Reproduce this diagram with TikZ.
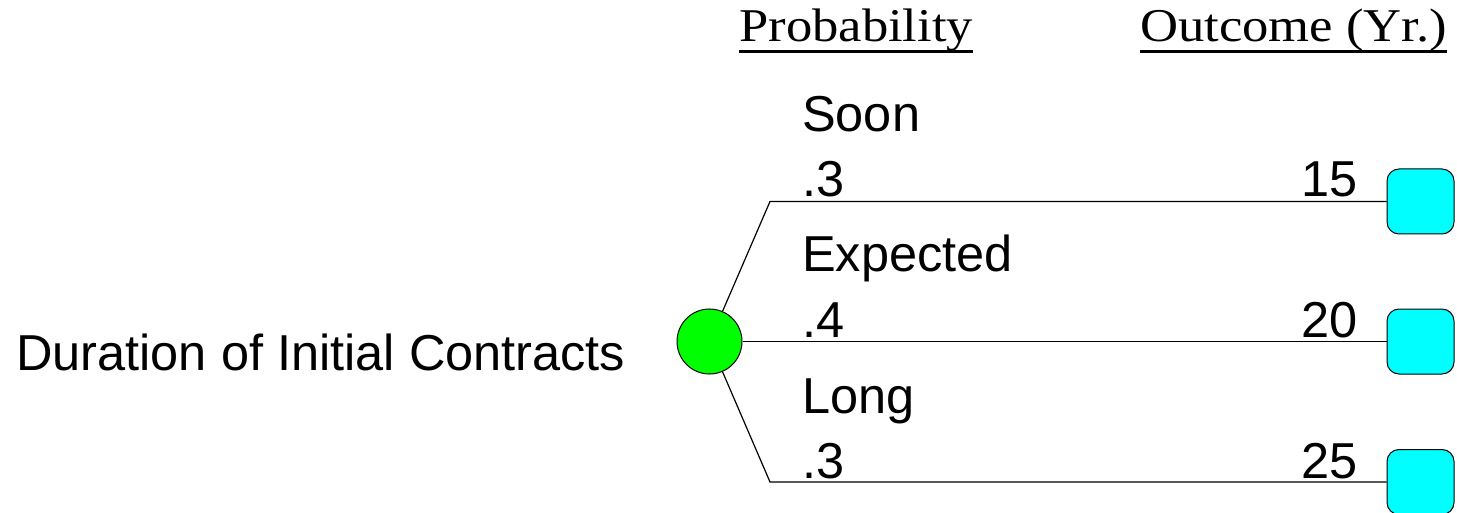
\documentclass[tikz,border=0pt]{standalone}
\usepackage{fontspec}
\setmainfont{Liberation Sans}
\newfontfamily\tnr{Liberation Serif}
\begin{document}
\begin{tikzpicture}[x=1pt,y=-1pt,
  lbl/.style={inner sep=0pt, anchor=base west, font=\fontsize{50.5}{60}\selectfont},
  lblr/.style={inner sep=0pt, anchor=base east, font=\fontsize{50.5}{60}\selectfont},
  head/.style={inner sep=0pt, anchor=base west},
  branch/.style={draw=black, line width=1.2pt},
  chance/.style={circle, draw=black, line width=1pt, fill={rgb,255:red,0;green,255;blue,0}, minimum size=65pt, inner sep=0pt},
  endnode/.style={rectangle, rounded corners=12pt, draw=black, line width=1pt, fill={rgb,255:red,0;green,255;blue,255}, minimum width=67pt, minimum height=65pt, inner sep=0pt}
]
\useasboundingbox (0,0) rectangle (1457,513);
\clip (0,0) rectangle (1457,513);

% headings
\node[head] (hp) at (739,42) {\tnr\fontsize{47}{56}\selectfont\scalebox{1.12}[1]{Probability}};
\node[head] (ho) at (1140,42) {\tnr\fontsize{47}{56}\selectfont\scalebox{1.12}[1]{Outcome (Yr.)}};
\draw[line width=3pt] (hp.west |- 0,52) -- (hp.east |- 0,52);
\draw[line width=3pt] (ho.west |- 0,52) -- (ho.east |- 0,52);

% decision label
\node[lbl] (title) at (16,370) {Duration of Initial Contracts};

% chance node
\node[chance] (c) at (709.5,341.5) {};

% end nodes
\node[endnode] (e1) at (1420.5,201.5) {};
\node[endnode] (e2) at (1420.5,341.5) {};
\node[endnode] (e3) at (1420.5,482) {};

% knees
\coordinate (k1) at (770,201.5);
\coordinate (k3) at (770,482);

\draw[branch] (c) -- (k1) -- (e1.west);
\draw[branch] (c) -- (e2.west);
\draw[branch] (c) -- (k3) -- (e3.west);

% branch labels
\node[lbl] (n1) at (802,132) {Soon};
\node[lbl] (p1) at (802,197) {.3};
\node[lbl] (n2) at (802,272) {Expected};
\node[lbl] (p2) at (802,337) {.4};
\node[lbl] (n3) at (802,413) {Long};
\node[lbl] (p3) at (802,478) {.3};

\node[lblr] (o1) at (1358,197) {15};
\node[lblr] (o2) at (1358,337) {20};
\node[lblr] (o3) at (1358,478) {25};
\end{tikzpicture}
\end{document}
